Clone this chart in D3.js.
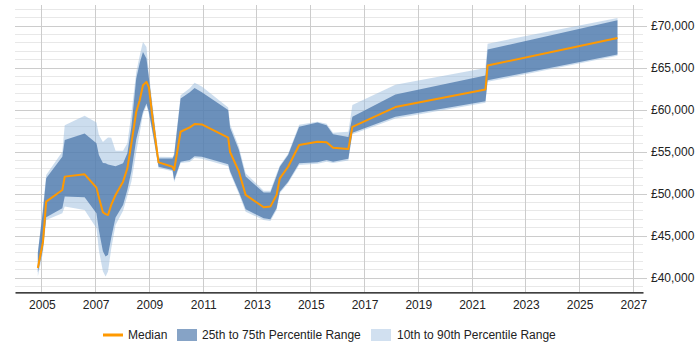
<!DOCTYPE html>
<html>
<head>
<meta charset="utf-8">
<script src="https://cdn.jsdelivr.net/npm/d3@7"></script>
<style>
  html, body { margin: 0; padding: 0; background: #fff; }
  svg { display: block; font-family: "Liberation Sans", Arial, sans-serif; }
</style>
</head>
<body>
<svg id="chart" width="700" height="350"></svg>
<script>
// ---- Data (decimal years) ----
const dates = [2004.85, 2005.04, 2005.16, 2005.76, 2005.85, 2006.59, 2007.03, 2007.12, 2007.27, 2007.37,
  2007.46, 2007.58, 2007.74, 2008.02, 2008.18, 2008.33, 2008.51, 2008.64, 2008.76, 2008.89,
  2008.98, 2009.14, 2009.34, 2009.86, 2009.92, 2010.16, 2010.5, 2010.68, 2010.95, 2011.93,
  2012.0, 2012.33, 2012.58, 2013.25, 2013.5, 2013.73, 2013.85, 2014.16, 2014.57, 2015.25,
  2015.59, 2015.83, 2016.4, 2016.55, 2018.15, 2021.5, 2021.58, 2026.41];
const median = [41200, 44300, 49100, 50480, 52070, 52345, 50760, 49600, 47830, 47600,
  47500, 48700, 49880, 51470, 53060, 56030, 59790, 61170, 62955, 63350,
  62700, 58400, 53770, 53250, 52860, 57410, 57930, 58320, 58285, 56700,
  55000, 52660, 49890, 48425, 48500, 49890, 51870, 53250, 55830, 56220,
  56150, 55510, 55350, 58000, 60350, 62440, 65300, 68575];
const p25 = [40700, 43500, 47240, 48310, 49690, 49620, 47720, 45700, 43200, 42560,
  42760, 44800, 47200, 48700, 50500, 52700, 56500, 58200, 59790, 60780,
  59800, 57000, 53250, 52860, 51670, 53850, 54050, 54500, 54440, 53530,
  52700, 50250, 48190, 47120, 47000, 48310, 50280, 51470, 53650, 53770,
  54050, 53850, 54200, 57300, 59190, 61050, 63550, 66600];
const p75 = [43000, 48000, 51870, 54440, 56420, 57210, 56030, 54640, 53700, 53660,
  53500, 53430, 53300, 53650, 54840, 58010, 63750, 65600, 66910, 66120,
  63800, 59500, 54240, 54240, 54600, 61370, 62100, 62630, 62100, 59990,
  57900, 55230, 52070, 50170, 50170, 52150, 53250, 54640, 58010, 58520,
  58200, 57100, 56800, 59200, 61850, 64120, 67190, 70670];
const p10 = [40200, 43000, 46920, 47720, 48500, 48110, 45930, 43300, 40800, 40190,
  40780, 43500, 46300, 48000, 49800, 51500, 55000, 57300, 59500, 60500,
  59500, 56800, 53100, 52700, 51400, 53700, 53800, 54300, 54200, 53300,
  52500, 50000, 47900, 46900, 46800, 48100, 50100, 51300, 53450, 53600,
  53850, 53700, 54000, 57100, 59000, 60850, 63350, 66450];
const p90 = [43000, 48500, 52270, 55040, 58200, 59310, 58520, 57020, 56200, 56500,
  56740, 56700, 55160, 55160, 56030, 59600, 64500, 66500, 68100, 67500,
  64300, 60000, 54440, 54400, 54800, 61770, 62600, 63230, 62800, 60300,
  58300, 55600, 52470, 50400, 50400, 52400, 53400, 54800, 58240, 58600,
  58350, 57300, 57400, 60600, 63000, 65000, 67900, 70950];
const xTicks = [2005, 2007, 2009, 2011, 2013, 2015, 2017, 2019, 2021, 2023, 2025, 2027];
const yTicks = [40000, 45000, 50000, 55000, 60000, 65000, 70000];
const legendLabels = ["Median", "25th to 75th Percentile Range", "10th to 90th Percentile Range"];

// ---- Chart ----
const svg = d3.select("#chart");
const pLeft = 15, pRight = 643, pTop = 5, pBottom = 292.3;
const x = d3.scaleLinear().domain([2004.0, 2027.36]).range([pLeft, pRight]);
const y = d3.scaleLinear().domain([38300, 72500]).range([pBottom, pTop]);

const rows = dates.map((d, i) => ({ t: d, m: median[i], a: p25[i], b: p75[i], c: p10[i], e: p90[i] }));

// grid
const g = svg.append("g");
const minor = d3.range(39000, 72501, 1000).filter(v => v % 5000 !== 0);
g.selectAll("line.minor").data(minor).join("line").attr("class", "minor")
  .attr("x1", pLeft).attr("x2", pRight)
  .attr("y1", d => y(d)).attr("y2", d => y(d))
  .attr("stroke", "#e8e8e8").attr("stroke-width", 1).attr("shape-rendering", "crispEdges");
g.selectAll("line.major").data(yTicks).join("line").attr("class", "major")
  .attr("x1", pLeft).attr("x2", pRight)
  .attr("y1", d => y(d)).attr("y2", d => y(d))
  .attr("stroke", "#cccccc").attr("stroke-width", 1).attr("shape-rendering", "crispEdges");
g.selectAll("line.vgrid").data(xTicks).join("line").attr("class", "vgrid")
  .attr("x1", d => x(d)).attr("x2", d => x(d))
  .attr("y1", pTop).attr("y2", pBottom)
  .attr("stroke", "#cccccc").attr("stroke-width", 1).attr("shape-rendering", "crispEdges");

// bands
const area10 = d3.area().x(d => x(d.t)).y0(d => y(d.c)).y1(d => y(d.e));
const area25 = d3.area().x(d => x(d.t)).y0(d => y(d.a)).y1(d => y(d.b));
svg.append("path").datum(rows).attr("d", area10)
  .attr("fill", "rgb(153,187,221)").attr("fill-opacity", 0.5);
svg.append("path").datum(rows).attr("d", area25)
  .attr("fill", "rgb(69,114,167)").attr("fill-opacity", 0.72);

// median
svg.append("path").datum(rows)
  .attr("d", d3.line().x(d => x(d.t)).y(d => y(d.m)))
  .attr("fill", "none").attr("stroke", "#ff9900").attr("stroke-width", 2)
  .attr("stroke-linejoin", "round");

// x axis
const xAxis = svg.append("g").attr("transform", `translate(0,${pBottom})`)
  .call(d3.axisBottom(x).tickValues(xTicks).tickFormat(d3.format("d")).tickSize(0).tickPadding(8));
xAxis.select(".domain").attr("stroke", "#000").attr("stroke-width", 1.3);
xAxis.selectAll("text").attr("font-size", 12).attr("fill", "#222")
  .attr("font-family", "'Liberation Sans', Arial, sans-serif");

// y axis (right)
const yAxis = svg.append("g").attr("transform", `translate(${pRight},0)`)
  .call(d3.axisRight(y).tickValues(yTicks).tickFormat(d => "£" + d3.format(",")(d)).tickSize(4).tickPadding(4));
yAxis.select(".domain").remove();
yAxis.selectAll("line").attr("stroke", "#cccccc");
yAxis.selectAll("text").attr("font-size", 12).attr("fill", "#222")
  .attr("font-family", "'Liberation Sans', Arial, sans-serif");

// legend
const lg = svg.append("g").attr("font-size", 12).attr("fill", "#222");
const ly = 335;
lg.append("line").attr("x1", 103).attr("x2", 123).attr("y1", ly).attr("y2", ly)
  .attr("stroke", "#ff9900").attr("stroke-width", 3);
lg.append("text").attr("x", 128).attr("y", ly + 4).text(legendLabels[0]);
lg.append("rect").attr("x", 177).attr("y", ly - 6).attr("width", 20).attr("height", 12)
  .attr("fill", "rgb(69,114,167)").attr("fill-opacity", 0.65);
lg.append("text").attr("x", 202).attr("y", ly + 4).text(legendLabels[1]);
lg.append("rect").attr("x", 371).attr("y", ly - 6).attr("width", 20).attr("height", 12)
  .attr("fill", "rgb(153,187,221)").attr("fill-opacity", 0.45);
lg.append("text").attr("x", 397).attr("y", ly + 4).text(legendLabels[2]);
</script>
</body>
</html>
